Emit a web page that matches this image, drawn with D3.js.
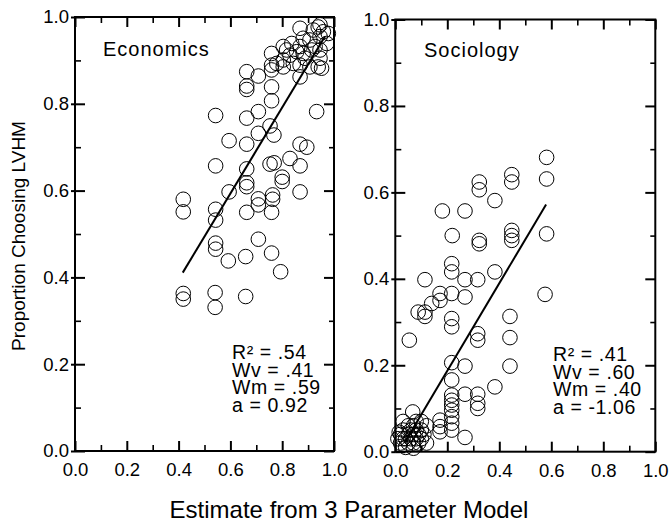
<!DOCTYPE html>
<html><head><meta charset="utf-8">
<script src="https://cdn.jsdelivr.net/npm/d3@7"></script>
<style>
body{margin:0;background:#fff;}
svg text{font-family:"Liberation Sans",Arial,Helvetica,sans-serif;fill:#000;}
</style></head>
<body><svg id="c" width="672" height="527"></svg>
<script>
// ---- Data ----
const econX = [0.418,0.418,0.418,0.418,0.543,0.543,0.543,0.543,0.543,0.543,0.541,0.541,0.595,0.595,0.592,
  0.663,0.663,0.663,0.663,0.663,0.663,0.663,0.663,0.663,0.659,0.659,0.708,0.708,0.708,0.708,0.708,0.708,
  0.759,0.759,0.759,0.759,0.759,0.753,0.768,0.753,0.769,0.763,0.763,0.759,0.759,0.800,0.800,0.794,0.830,
  0.869,0.895,0.869,0.869,0.933,
  0.804,0.837,0.869,0.881,0.869,0.907,0.939,0.946,0.927,0.959,0.972,0.804,0.804,0.779,0.830,0.856,0.881,
  0.888,0.869,0.907,0.939,0.952,0.869,0.817,0.843,0.920,0.914,0.946,0.978,0.946,0.946];
const econY = [0.580,0.551,0.363,0.350,0.773,0.657,0.557,0.532,0.479,0.465,0.365,0.331,0.715,0.597,0.438,
  0.874,0.841,0.833,0.767,0.707,0.650,0.618,0.609,0.550,0.448,0.356,0.864,0.782,0.732,0.581,0.567,0.488,
  0.916,0.889,0.878,0.839,0.807,0.749,0.728,0.661,0.664,0.590,0.580,0.550,0.456,0.631,0.621,0.413,0.674,
  0.707,0.700,0.657,0.597,0.782,
  0.932,0.939,0.974,0.951,0.932,0.947,0.977,0.955,0.932,0.966,0.939,0.885,0.901,0.893,0.912,0.920,0.916,
  0.905,0.889,0.885,0.885,0.882,0.862,0.924,0.893,0.970,0.924,0.982,0.962,0.924,0.905];
const socX = [0.582,0.582,0.448,0.448,0.323,0.323,0.383,0.181,0.268,0.219,0.323,0.323,0.448,0.448,0.448,0.582,
  0.217,0.217,0.383,0.114,0.268,0.317,0.172,0.172,0.217,0.268,0.140,0.088,0.114,0.114,0.217,0.217,0.054,
  0.317,0.317,0.441,0.441,0.576,0.441,0.217,0.268,0.217,0.383,0.268,0.317,
  0.217,0.217,0.217,0.217,0.217,0.217,0.217,0.317,0.317,0.268,0.067,0.172,0.172,0.172,
  0.02,0.02,0.03,0.03,0.04,0.04,0.05,0.05,0.05,0.06,0.06,0.07,0.07,0.07,0.08,0.08,0.08,0.09,0.09,
  0.10,0.10,0.10,0.11,0.12,0.12,0.03,0.07,0.01,0.015];
const socY = [0.681,0.631,0.641,0.624,0.624,0.606,0.581,0.557,0.557,0.500,0.489,0.481,0.512,0.500,0.489,0.504,
  0.435,0.416,0.416,0.398,0.398,0.398,0.366,0.350,0.366,0.358,0.343,0.323,0.323,0.313,0.308,0.289,0.258,
  0.273,0.258,0.313,0.264,0.364,0.198,0.206,0.198,0.166,0.150,0.133,0.133,
  0.131,0.119,0.108,0.096,0.081,0.066,0.050,0.112,0.100,0.033,0.092,0.073,0.058,0.046,
  0.02,0.04,0.03,0.05,0.01,0.03,0.02,0.04,0.06,0.03,0.05,0.02,0.04,0.06,0.03,0.05,0.07,0.02,0.04,
  0.03,0.05,0.07,0.04,0.02,0.06,0.07,0.008,0.03,0.045];
const econFitX = [0.416, 0.965], econFitY = [0.411, 0.955];
const socFitX = [0.035, 0.58], socFitY = [0.02, 0.572];
const econStats = ["R² = .54","Wv = .41","Wm = .59","a = 0.92"];
const socStats = ["R² = .41","Wv = .60","Wm = .40","a = -1.06"];
const panelNames = ["Economics","Sociology"];
const majorTicks = [0,0.2,0.4,0.6,0.8,1.0];
const minorTicks = [0.1,0.3,0.5,0.7,0.9];
const xTitle = "Estimate from 3 Parameter Model";
const yTitle = "Proportion Choosing LVHM";

// ---- Drawing ----
const svg = d3.select("#c");
const fmt = d3.format(".1f");

const panels = [
  {name:panelNames[0], xs:econX, ys:econY, fx:econFitX, fy:econFitY, stats:econStats,
   x0:75, x1:334, yTop:17, yBot:451, nameX:103, nameY:56, statX:232, statY:359},
  {name:panelNames[1], xs:socX, ys:socY, fx:socFitX, fy:socFitY, stats:socStats,
   x0:395.3, x1:655.3, yTop:19.5, yBot:451.7, nameX:424, nameY:57, statX:553, statY:361}
];

panels.forEach(p => {
  const x = d3.scaleLinear().domain([0,1]).range([p.x0,p.x1]);
  const y = d3.scaleLinear().domain([0,1]).range([p.yBot,p.yTop]);
  const g = svg.append("g");

  const styleAxis = (sel, w) => {
    sel.select(".domain").remove();
    sel.selectAll(".tick line").attr("stroke","#000").attr("stroke-width",w);
    sel.selectAll(".tick text").attr("font-size","18.5px").attr("font-family","'Liberation Sans',Arial,sans-serif");
  };
  g.append("g").attr("transform",`translate(0,${p.yBot})`)
    .call(d3.axisBottom(x).tickValues(majorTicks).tickFormat(fmt).tickSize(-10).tickPadding(12))
    .call(s=>styleAxis(s,2));
  g.append("g").attr("transform",`translate(0,${p.yBot})`)
    .call(d3.axisBottom(x).tickValues(minorTicks).tickFormat("").tickSize(-6))
    .call(s=>styleAxis(s,1.6));
  g.append("g").attr("transform",`translate(0,${p.yTop})`)
    .call(d3.axisTop(x).tickValues(majorTicks).tickFormat("").tickSize(-10))
    .call(s=>styleAxis(s,2));
  g.append("g").attr("transform",`translate(0,${p.yTop})`)
    .call(d3.axisTop(x).tickValues(minorTicks).tickFormat("").tickSize(-6))
    .call(s=>styleAxis(s,1.6));
  g.append("g").attr("transform",`translate(${p.x0},0)`)
    .call(d3.axisLeft(y).tickValues(majorTicks).tickFormat(fmt).tickSize(4).tickPadding(2))
    .call(s=>styleAxis(s,2));
  g.append("g").attr("transform",`translate(${p.x0},0)`)
    .call(d3.axisLeft(y).tickValues(majorTicks).tickFormat("").tickSize(-10))
    .call(s=>styleAxis(s,2));
  g.append("g").attr("transform",`translate(${p.x0},0)`)
    .call(d3.axisLeft(y).tickValues(minorTicks).tickFormat("").tickSize(-6))
    .call(s=>styleAxis(s,1.6));
  g.append("g").attr("transform",`translate(${p.x1},0)`)
    .call(d3.axisRight(y).tickValues(majorTicks).tickFormat("").tickSize(-10))
    .call(s=>styleAxis(s,2));
  g.append("g").attr("transform",`translate(${p.x1},0)`)
    .call(d3.axisRight(y).tickValues(minorTicks).tickFormat("").tickSize(-5))
    .call(s=>styleAxis(s,1.6));

  g.append("rect").attr("x",x(0)).attr("y",y(1)).attr("width",x(1)-x(0)).attr("height",y(0)-y(1))
    .attr("fill","none").attr("stroke","#000").attr("stroke-width",2);

  g.append("g").selectAll("circle").data(p.xs.map((v,i)=>[v,p.ys[i]])).join("circle")
    .attr("cx",d=>x(d[0])).attr("cy",d=>y(d[1])).attr("r",7.3)
    .attr("fill","none").attr("stroke","#000").attr("stroke-width",1);

  g.append("line").attr("x1",x(p.fx[0])).attr("y1",y(p.fy[0]))
    .attr("x2",x(p.fx[1])).attr("y2",y(p.fy[1]))
    .attr("stroke","#000").attr("stroke-width",2);

  g.append("text").attr("x",p.nameX).attr("y",p.nameY).attr("font-size","20px")
    .attr("letter-spacing","1px").text(p.name);

  // stats block: one text element, tightly stacked lines as in the reference
  const st = g.append("text").attr("x",p.statX).attr("y",p.statY)
    .attr("font-size","19.5px").attr("letter-spacing","0.6px");
  st.selectAll("tspan").data(p.stats).join("tspan")
    .attr("x",p.statX).attr("dy",(d,i)=>i===0?0:17.6).text(d=>d);
});

svg.append("text").attr("transform","translate(25,236) rotate(-90)")
  .attr("text-anchor","middle").attr("font-size","19px").text(yTitle);
svg.append("text").attr("x",349).attr("y",518).attr("text-anchor","middle")
  .attr("font-size","24px").text(xTitle);
</script></body></html>
